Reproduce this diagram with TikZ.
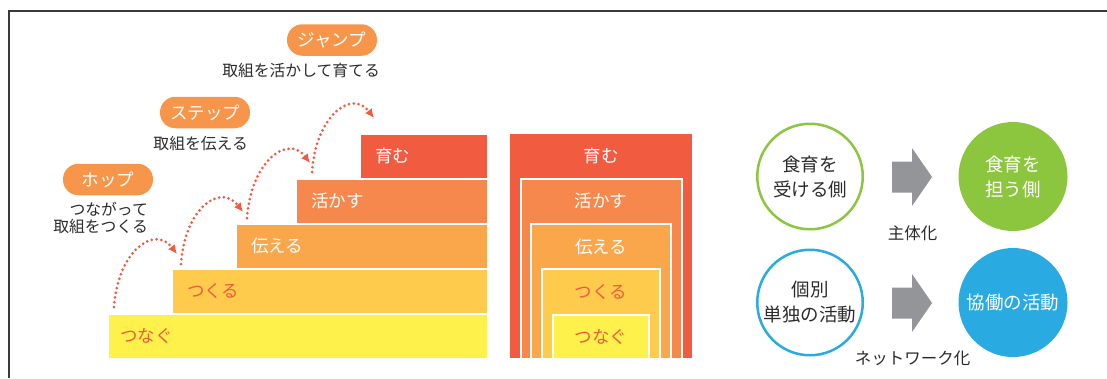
\documentclass[tikz,border=0pt]{standalone}
\usepackage{fontspec}
\setmainfont{Noto Sans CJK JP}
\usetikzlibrary{arrows.meta}
\definecolor{barA}{HTML}{FFF14C}
\definecolor{barB}{HTML}{FECB4D}
\definecolor{barC}{HTML}{FAA74B}
\definecolor{barD}{HTML}{F6874D}
\definecolor{barE}{HTML}{F15B40}
\definecolor{pillc}{HTML}{F7964A}
\definecolor{dotc}{HTML}{F05A40}
\definecolor{darkt}{HTML}{2B2B2B}
\definecolor{grn}{HTML}{8CC63F}
\definecolor{blu}{HTML}{29ABE2}
\definecolor{gry}{HTML}{939598}
\definecolor{framec}{HTML}{3A3A3A}
\begin{document}
\begin{tikzpicture}[x=1pt,y=-1pt,
  bar/.style={anchor=north west, inner sep=0, outer sep=0, minimum height=42.5},
  barlbl/.style={anchor=west, inner sep=0, font=\fontsize{17.5}{20}\selectfont},
  boxlbl/.style={inner sep=0, font=\fontsize{17.5}{20}\selectfont},
  pill/.style={fill=pillc, rounded corners=15.5, minimum width=90, minimum height=31.5, inner sep=0, text=white, font=\fontsize{17.5}{20}\selectfont},
  note/.style={anchor=east, align=right, inner sep=0, text=darkt, font=\fontsize{15.8}{17}\selectfont},
  hop/.style={draw=dotc, line width=3, dash pattern=on 0pt off 4.8pt, line cap=round, -{Latex[length=9pt,width=8.5pt]}},
  nest/.style={anchor=north west, inner sep=0, outer sep=0},
  wline/.style={draw=white, line width=1.5},
  ring/.style={circle, draw=#1, line width=2.5, minimum size=105.5, inner sep=0, align=center, text=darkt, font=\fontsize{18.5}{25}\selectfont},
  disc/.style={circle, fill=#1, minimum size=109, inner sep=0, align=center, text=white, font=\fontsize{18.5}{25}\selectfont},
  garrow/.style={fill=gry},
  captext/.style={inner sep=0, text=darkt, font=\fontsize{16.5}{18}\selectfont}]
\useasboundingbox (0,0) rectangle (1107,378);
\draw[framec, line width=1.6] (1107,11) -- (9,11) -- (9,378);

% stairs
\node[bar, fill=barA, minimum width=378] (b1) at (109,315) {};
\node[bar, fill=barB, minimum width=314] (b2) at (173,270) {};
\node[bar, fill=barC, minimum width=250] (b3) at (237,225) {};
\node[bar, fill=barD, minimum width=190] (b4) at (297,180) {};
\node[bar, fill=barE, minimum width=126] (b5) at (361,135) {};
\node[barlbl, text=dotc] (l1) at ([xshift=11]b1.west) {つなぐ};
\node[barlbl, text=dotc] (l2) at ([xshift=14]b2.west) {つくる};
\node[barlbl, text=white] (l3) at ([xshift=14]b3.west) {伝える};
\node[barlbl, text=white] (l4) at ([xshift=14]b4.west) {活かす};
\node[barlbl, text=white] (l5) at ([xshift=14]b5.west) {育む};

% hop arrows
\coordinate (s1) at (114,307); \coordinate (e1) at (177,254);
\coordinate (s2) at (181,264); \coordinate (e2) at (243,212);
\coordinate (s3) at (247,218); \coordinate (e3) at (310,163);
\coordinate (s4) at (312,172); \coordinate (e4) at (374,118);
\foreach \i in {1,2,3,4}{
  \draw[hop] (s\i) .. controls ([shift={(4,-57)}]s\i) and ([shift={(-22,-29)}]e\i) .. (e\i);
}

% pills and notes
\node[pill] (p3) at (332,40) {ジャンプ};
\node[pill] (p2) at (205,112.5) {ステップ};
\node[pill] (p1) at (108,179.5) {ホップ};
\node[note] (n3) at (380,71) {取組を活かして育てる};
\node[note] (n2) at (248,144) {取組を伝える};
\node[note] (n1) at (148,217.5) {つながって\\取組をつくる};

% nested boxes
\node[nest, fill=barE, minimum width=182, minimum height=224] (q5) at (510,134) {};
\node[nest, fill=barD, minimum width=161, minimum height=179] (q4) at (521,179) {};
\node[nest, fill=barC, minimum width=140, minimum height=134] (q3) at (531,224) {};
\node[nest, fill=barB, minimum width=118, minimum height=89] (q2) at (542,269) {};
\node[nest, fill=barA, minimum width=96, minimum height=43] (q1) at (553,315) {};
\foreach \q in {q4,q3,q2,q1}{
  \draw[wline] (\q.south west) -- (\q.north west) -- (\q.north east) -- (\q.south east);
}
\node[boxlbl, text=white] (r5) at (601,156) {育む};
\node[boxlbl, text=white] (r4) at (601,201) {活かす};
\node[boxlbl, text=white] (r3) at (601,247) {伝える};
\node[boxlbl, text=dotc] (r2) at (601,292) {つくる};
\node[boxlbl, text=dotc] (r1) at (601,337) {つなぐ};

% circles
\node[ring=grn] (c1) at (810,176.5) {食育を\\受ける側};
\node[disc=grn] (c2) at (1013,176.5) {食育を\\担う側};
\node[ring=blu] (c3) at (810,302.5) {個別\\単独の活動};
\node[disc=blu] (c4) at (1013,302.5) {協働の活動};

% gray arrows
\coordinate (g1) at (912,177);
\coordinate (g2) at (912,303);
\foreach \g in {g1,g2}{
  \fill[garrow] ([shift={(-20,-15.5)}]\g) -- ([shift={(0,-15.5)}]\g) -- ([shift={(0,-29)}]\g) -- ([shift={(20,0)}]\g) -- ([shift={(0,29)}]\g) -- ([shift={(0,15.5)}]\g) -- ([shift={(-20,15.5)}]\g) -- cycle;
}
\node[captext] (k1) at (912.5,233) {主体化};
\node[captext] (k2) at (912.5,358) {ネットワーク化};
\end{tikzpicture}
\end{document}
